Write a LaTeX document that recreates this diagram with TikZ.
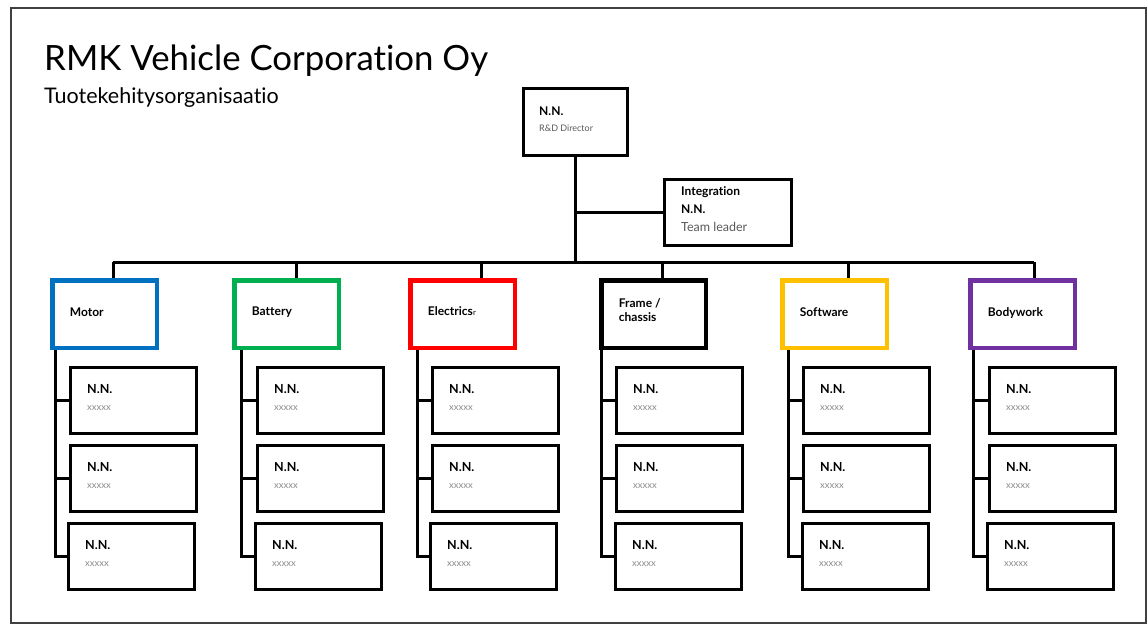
\documentclass[tikz,border=0pt]{standalone}
\usepackage{fontspec}
\setmainfont{Lato}[Ligatures=NoCommon]
\definecolor{motorblue}{HTML}{0070C0}
\definecolor{batterygreen}{HTML}{00B050}
\definecolor{electricred}{HTML}{FF0000}
\definecolor{softgold}{HTML}{FFC000}
\definecolor{bodypurple}{HTML}{7030A0}
\definecolor{roletext}{HTML}{595959}
\definecolor{placeholder}{HTML}{8C8C8C}

% One department: coloured unit box, drop from the bus, three staff boxes on a spine
% #1 id, #2 box left, #3 drop x, #4 spine x, #5 staff left, #6 third staff left,
% #7 colour, #8 label, #9 label baseline (last line)
\newcommand\orgcolumn[9]{%
  \coordinate (#1-drop) at (#3,262);
  \node[unitbox=#7] (#1) at (#2,278) {};
  \node[unithead] (#1-t) at (#2,0 |- 0,#9) {};
  \node[unithead] (#1-label) at ([xshift=19pt]#1-t) {#8};
  \draw[conn] (#1-drop) -- (#3,0 |- #1.north);
  \node[staffbox] (#1a) at (#5,366) {};
  \node[staffbox] (#1b) at (#5,444) {};
  \node[staffbox] (#1c) at (#6,522) {};
  \foreach \s in {a,b,c}{%
    \node[staffname] (#1\s-n) at ([shift={(18,27)}]#1\s.north west) {N.N.};
    \node[staffrole] (#1\s-r) at ([shift={(18,44)}]#1\s.north west) {xxxxx};
  }
  \draw[conn] (#4,0 |- #1.south) -- (#4,0 |- #1c.west) -- (#1c.west);
  \draw[conn] (#4,0 |- #1a.west) -- (#1a.west);
  \draw[conn] (#4,0 |- #1b.west) -- (#1b.west);
}

\begin{document}
\begin{tikzpicture}[x=1pt,y=-1pt,
  conn/.style={line width=3pt, line join=miter},
  plainbox/.style={draw, line width=3pt, rectangle, inner sep=0pt, anchor=north west},
  unitbox/.style={draw=#1, line width=4.5pt, rectangle, inner sep=0pt,
    anchor=north west, minimum width=104.5pt, minimum height=67.5pt},
  staffbox/.style={plainbox, minimum width=126pt, minimum height=66pt},
  unithead/.style={anchor=base west, inner sep=0pt, align=left,
    font=\fontsize{12}{13.5}\selectfont\bfseries},
  staffname/.style={anchor=base west, inner sep=0pt, font=\fontsize{12.5}{14}\selectfont\bfseries},
  staffrole/.style={anchor=base west, inner sep=0pt, text=placeholder, font=\fontsize{9.5}{11}\selectfont},
  textline/.style={anchor=base west, inner sep=0pt}]

\useasboundingbox (0,0) rectangle (1148,625);
\draw[line width=1.2pt, draw=black!75] (11,8) rectangle (1146,623);

% heading
\node[textline, font=\fontsize{34.8}{40}\selectfont] (title) at (44,70) {RMK Vehicle Corporation Oy};
\node[textline, font=\fontsize{21.5}{25}\selectfont] (subtitle) at (44,103) {Tuotekehitysorganisaatio};

% director and integration team
\node[plainbox, minimum width=104pt, minimum height=67pt] (dir) at (522,87) {};
\node[textline, font=\fontsize{12}{14}\selectfont\bfseries] (dir-n) at ([shift={(17,28)}]dir.north west) {N.N.};
\node[textline, font=\fontsize{9}{11}\selectfont, text=roletext] (dir-r) at ([shift={(17,44)}]dir.north west) {R\&D Director};

\node[plainbox, minimum width=127pt, minimum height=66pt] (integ) at (663,178) {};
\node[textline, font=\fontsize{12}{14}\selectfont\bfseries] (integ-t) at ([shift={(18,17)}]integ.north west) {Integration};
\node[textline, font=\fontsize{12}{14}\selectfont\bfseries] (integ-n) at ([shift={(18,35)}]integ.north west) {N.N.};
\node[textline, font=\fontsize{12.5}{14}\selectfont, text=roletext] (integ-r) at ([shift={(18,53)}]integ.north west) {Team leader};

\coordinate (bus-l) at (113,262);
\coordinate (bus-r) at (1034,262);
\draw[conn] (dir.south) -- (dir.south |- bus-l);
\draw[conn] (dir.south |- integ.west) -- (integ.west);
\draw[conn] (bus-l) -- (bus-r);

% departments
\orgcolumn{motor}{50}{113}{55}{69}{67}{motorblue}{Motor}{316}
\orgcolumn{battery}{232}{296}{241}{256}{254}{batterygreen}{Battery}{315}
\orgcolumn{electrics}{408}{481}{417}{431}{429}{electricred}{Electrics{\fontsize{8}{9}\selectfont\mdseries r}}{315}
\orgcolumn{frame}{599}{662}{601}{615}{614}{black}{Frame /\\chassis}{321}
\orgcolumn{software}{780}{848}{788}{802}{801}{softgold}{Software}{316}
\orgcolumn{bodywork}{968}{1034}{973}{988}{986}{bodypurple}{Bodywork}{316}
\end{tikzpicture}
\end{document}
